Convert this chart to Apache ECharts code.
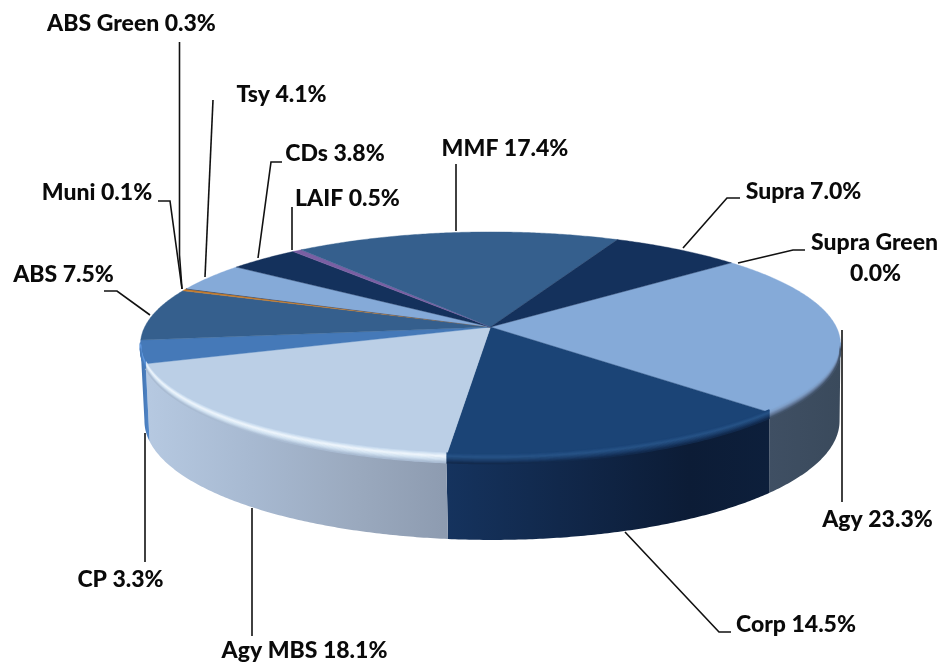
<!DOCTYPE html>
<html>
<head>
<meta charset="utf-8">
<style>html,body{margin:0;padding:0;background:#fff}#c{width:944px;height:665px}</style>
<script src="https://cdn.jsdelivr.net/npm/echarts@6/dist/echarts.min.js"></script>
</head>
<body>
<div id="c"></div>
<script>
// ---- data ----
const categories = ['Supra Green','Agy','Corp','Agy MBS','CP','ABS','ABS Green','Muni','Tsy','CDs','LAIF','MMF','Supra'];
const values     = [0.0, 23.3, 14.5, 18.1, 3.3, 7.5, 0.3, 0.1, 4.1, 3.8, 0.5, 17.4, 7.0];

// ---- styles ----
const topColors = ['#85aad8','#85aad8','#1b4476','#bbcfe6','#4579b8','#355f8d','#c27a2c','#1f3a63','#85aad8','#14315c','#7a5fa3','#355f8d','#14315c'];
const wallStops = {
  1: [[0,'#3f4f63'],[1,'#3a4a5c']],
  2: [[0,'#15335e'],[0.35,'#11284b'],[0.75,'#0c1c36'],[1,'#0d1f3b']],
  3: [[0,'#b6c9e1'],[0.35,'#a7b9d1'],[0.7,'#9aa9be'],[1,'#8d9bb0']],
  4: [[0,'#3f70ad'],[1,'#5389cc']]
};
// colours of the soft rim, from just inside the top face to the wall
const bevelStops = {
  1: ['#85aad8','#7f9fc8','#64799a','#3f5065'],
  2: ['#1b4476','#275387','#1c3f6c','#11284b'],
  3: ['#c6d9ee','#f0f7fd','#cfe0f0','#a7b9d1'],
  4: ['#4579b8','#639ae0','#5a90d4','#4579b8']
};

// ---- projection of the disc ----
const view = { cx: 490.5, cy: 327, rx: 345.8, ry: 109.8, k: 0.155, startDeg: -40, depth: 75, depthFront: 8 };
const silhouetteDeg = Math.asin(view.k) * 180 / Math.PI;
const total = values.reduce((a, b) => a + b, 0);
const spans = [];
values.reduce((acc, v) => { const next = acc + v / total * 360; spans.push([acc + view.startDeg, next + view.startDeg]); return next; }, 0);

function rim(deg, d) {
  const t = deg * Math.PI / 180, X = Math.cos(t), Y = Math.sin(t), w = 1 - view.k * Y;
  return [view.cx + view.rx * X / w, view.cy + view.ry * Y / w + (d || 0)];
}
function bottom(deg) {
  const t = deg * Math.PI / 180, X = Math.cos(t), Y = Math.sin(t);
  const p = rim(deg, view.depth + view.depthFront * Y);
  return [p[0] + 1.5 - 2.5 * X, p[1]];
}
function arc(a0, a1, fn) {
  const n = Math.max(1, Math.ceil((a1 - a0) / 0.5)), out = [];
  for (let i = 0; i <= n; i++) out.push(fn(a0 + (a1 - a0) * i / n));
  return out;
}
function frontSpan(i) {
  const a0 = Math.max(spans[i][0], silhouetteDeg), a1 = Math.min(spans[i][1], 180 - silhouetteDeg);
  return a1 > a0 ? [a0, a1] : null;
}
function hex(c) { return [1, 3, 5].map(p => parseInt(c.substr(p, 2), 16)); }
function mix(a, b, f) { const A = hex(a), B = hex(b); return 'rgb(' + A.map((v, i) => Math.round(v + (B[i] - v) * f)).join(',') + ')'; }
function ramp(stops, f) {
  const s = f * (stops.length - 1), i = Math.min(Math.floor(s), stops.length - 2);
  return mix(stops[i], stops[i + 1], s - i);
}

// ---- label and leader placement ----
const labelFont = { fontFamily: 'Lato', fontWeight: 900, fontSize: 23 };
const labelPlacement = [
  { text: 'ABS Green 0.3%', x: 131.5, y: 24,  line: [[179.5,42],[179.5,255],[182,289]] },
  { text: 'Tsy 4.1%',       x: 281.5, y: 95,  line: [[213,100],[205,277]] },
  { text: 'CDs 3.8%',       x: 335,   y: 154, line: [[282,162],[271,162],[258,258]] },
  { text: 'LAIF 0.5%',      x: 347.5, y: 199, line: [[292,207],[292,250]] },
  { text: 'Muni 0.1%',      x: 97,    y: 193, line: [[158,201],[170,201],[182,289]] },
  { text: 'MMF 17.4%',      x: 505,   y: 149, line: [[456,164],[456,231]] },
  { text: 'Supra 7.0%',     x: 803.5, y: 192, line: [[740,198],[727,198],[683,248]] },
  { text: 'Supra Green',    x: 874.5, y: 243, line: [[805,250],[793,250],[738,263]] },
  { text: '0.0%',           x: 875.5, y: 274, line: null },
  { text: 'ABS 7.5%',       x: 63.5,  y: 275, line: [[104,291],[117,291],[150,315]] },
  { text: 'Agy 23.3%',      x: 877.5, y: 520, line: [[842,330],[842,502]] },
  { text: 'Corp 14.5%',     x: 796,   y: 625, line: [[731,632],[719,632],[625,532]] },
  { text: 'CP 3.3%',        x: 120.5, y: 580, line: [[145,433],[145,562]] },
  { text: 'Agy MBS 18.1%',  x: 304.5, y: 651, line: [[252,508],[252,636]] }
];

const sliceData = categories.map((name, i) => ({ name, value: values[i] }));

const chart = echarts.init(document.getElementById('c'));
chart.setOption({
  backgroundColor: '#fff',
  animation: false,
  series: [
    { // side walls
      type: 'custom', coordinateSystem: 'none', silent: true, data: sliceData,
      renderItem(p) {
        const i = p.dataIndex, span = frontSpan(i);
        if (!span || !values[i]) return { type: 'group', children: [] };
        const up = arc(span[0], span[1], rim), low = arc(span[0], span[1], bottom).reverse();
        return { type: 'polygon', shape: { points: up.concat(low) },
          style: { fill: { type: 'linear', x: 0, y: 0, x2: 1, y2: 0, colorStops: wallStops[i].map(s => ({ offset: s[0], color: s[1] })) } } };
      }
    },
    { // top face
      type: 'custom', coordinateSystem: 'none', silent: true, data: sliceData,
      renderItem(p) {
        const i = p.dataIndex;
        if (!values[i]) return { type: 'group', children: [] };
        return { type: 'polygon',
          shape: { points: [[view.cx, view.cy]].concat(arc(spans[i][0], spans[i][1], rim)) },
          style: { fill: topColors[i], stroke: topColors[i], lineWidth: 0.4 } };
      }
    },
    { // soft rim
      type: 'custom', coordinateSystem: 'none', silent: true, data: sliceData,
      renderItem(p) {
        const i = p.dataIndex, span = frontSpan(i);
        if (!span || !values[i]) return { type: 'group', children: [] };
        const children = [];
        for (let d = -3; d <= 7; d += 0.75) {
          const f = (d + 3) / 10;
          children.push({ type: 'polyline',
            shape: { points: arc(span[0], span[1], a => rim(a, d * (0.6 + 0.4 * Math.sin(a * Math.PI / 180)))) },
            style: { fill: 'none', stroke: ramp(bevelStops[i], f), lineWidth: 1.3 } });
        }
        return { type: 'group', children };
      }
    },
    { // leaders and labels
      type: 'custom', coordinateSystem: 'none', silent: true,
      data: labelPlacement.map(l => l.text),
      renderItem(p) {
        const l = labelPlacement[p.dataIndex], children = [];
        if (l.line) children.push({ type: 'polyline', shape: { points: l.line },
          style: { fill: 'none', stroke: '#111', lineWidth: 1.6 } });
        children.push({ type: 'text', x: l.x, y: l.y,
          style: Object.assign({ text: l.text, fill: '#0a0a0a', align: 'center', verticalAlign: 'middle' }, labelFont) });
        return { type: 'group', children };
      }
    }
  ]
});
</script>
</body>
</html>
